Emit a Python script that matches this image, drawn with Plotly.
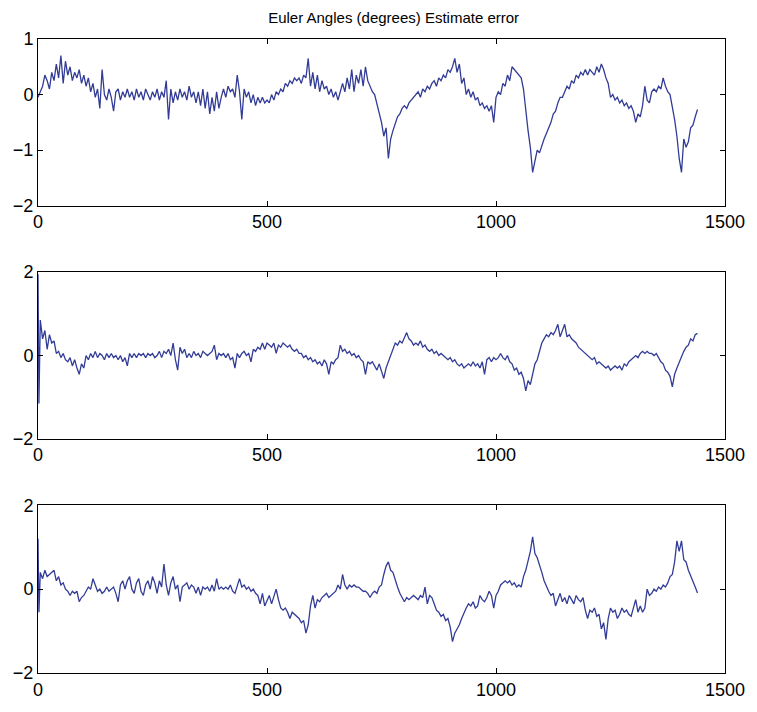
import plotly.graph_objects as go
from plotly.subplots import make_subplots

# sample index (every 5 samples)
x1 = list(range(0, 1441, 5))
roll = [
    -0.05, 0.05, 0.15, 0.35, 0.25, 0.10, 0.40, 0.25, 0.55, 0.30, 0.70, 0.20, 0.60, 0.35, 0.50, 0.25, 0.40, 0.30, 0.45, 0.20, 0.35,
    0.15, 0.30, 0.05, 0.20, -0.05, 0.10, -0.25, 0.45, 0.00, -0.10, 0.10, -0.05, -0.30, 0.05, 0.10, -0.10, 0.05, -0.05, 0.10, -0.05,
    0.05, -0.10, 0.10, -0.05, 0.05, -0.10, 0.10, 0.00, -0.10, 0.05, -0.05, 0.10, -0.10, 0.05, -0.05, 0.25, -0.45, 0.10, -0.15, 0.05,
    -0.10, 0.10, -0.05, 0.05, -0.10, 0.15, -0.05, 0.05, -0.15, 0.05, -0.20, 0.10, -0.25, 0.05, -0.35, -0.05, -0.30, 0.05, -0.25, -0.05,
    0.10, -0.05, 0.15, 0.05, 0.10, -0.05, 0.35, 0.05, -0.45, 0.10, -0.05, 0.05, -0.15, 0.00, -0.20, -0.05, -0.15, -0.05, -0.15, -0.10,
    -0.15, 0.00, -0.10, 0.05, 0.00, 0.10, 0.05, 0.20, 0.15, 0.25, 0.20, 0.30, 0.25, 0.30, 0.20, 0.35, 0.30, 0.65, 0.15, 0.40,
    0.10, 0.35, 0.05, 0.25, 0.10, 0.15, 0.00, 0.10, -0.05, 0.05, -0.10, 0.05, 0.20, 0.05, 0.30, 0.10, 0.45, 0.05, 0.35, 0.20,
    0.45, 0.15, 0.50, 0.25, 0.15, 0.05, 0.00, -0.15, -0.30, -0.50, -0.75, -0.60, -1.15, -0.80, -0.65, -0.50, -0.40, -0.35, -0.25, -0.20,
    -0.25, -0.15, -0.10, -0.05, 0.00, 0.05, -0.05, 0.10, 0.05, 0.15, 0.10, 0.20, 0.25, 0.15, 0.30, 0.25, 0.35, 0.30, 0.45, 0.40,
    0.50, 0.65, 0.40, 0.55, 0.20, 0.30, 0.00, 0.10, -0.05, 0.05, -0.10, -0.05, -0.20, -0.15, -0.25, -0.20, -0.30, -0.20, -0.50, -0.05,
    0.05, 0.00, 0.20, 0.15, 0.35, 0.25, 0.50, 0.45, 0.40, 0.35, 0.30, 0.10, -0.30, -0.65, -0.95, -1.40, -1.20, -1.00, -1.05, -0.90,
    -0.80, -0.70, -0.60, -0.50, -0.35, -0.30, -0.15, -0.05, -0.05, 0.05, 0.15, 0.10, 0.25, 0.20, 0.35, 0.30, 0.40, 0.35, 0.45, 0.35,
    0.45, 0.40, 0.35, 0.50, 0.40, 0.55, 0.45, 0.30, 0.20, -0.05, 0.00, -0.10, -0.05, -0.15, -0.10, -0.20, -0.15, -0.25, -0.20, -0.30,
    -0.50, -0.35, -0.40, -0.20, 0.15, -0.10, -0.15, 0.05, 0.10, 0.05, 0.15, 0.10, 0.30, 0.15, 0.05, 0.00, -0.20, -0.45, -0.75, -1.15,
    -1.40, -0.80, -0.95, -0.85, -0.60, -0.55, -0.40, -0.27,
]

x2 = [0, 2] + list(range(5, 1441, 5))
pitch = [
    1.95, -1.15,
    0.85, 0.40, 0.60, 0.15, 0.50, 0.30, 0.35, 0.05, 0.10, -0.05, 0.05, -0.10, -0.15, -0.05, -0.25, -0.10, -0.30, -0.45, -0.20, -0.30,
    0.00, -0.10, 0.05, -0.05, 0.10, -0.05, 0.05, 0.00, -0.10, 0.05, -0.05, 0.05, -0.05, 0.00, -0.10, 0.00, -0.15, -0.05, -0.25, 0.05,
    -0.05, 0.05, -0.05, 0.05, 0.00, 0.05, -0.05, 0.05, 0.00, 0.05, -0.05, 0.00, 0.10, -0.05, 0.10, 0.05, 0.15, 0.00, 0.30, -0.10,
    -0.35, 0.20, 0.05, 0.15, -0.05, 0.05, -0.05, 0.10, 0.00, 0.05, -0.05, 0.10, 0.05, 0.00, 0.05, 0.10, 0.25, -0.10, 0.05, 0.00,
    0.05, -0.05, 0.05, -0.10, -0.05, -0.30, 0.05, -0.05, 0.05, 0.10, 0.00, 0.05, -0.15, 0.15, 0.10, 0.20, 0.15, 0.30, 0.15, 0.30,
    0.25, 0.20, 0.30, 0.05, 0.25, 0.20, 0.30, 0.25, 0.20, 0.25, 0.15, 0.10, 0.15, 0.05, 0.05, -0.05, 0.00, -0.10, -0.05, -0.15,
    -0.10, -0.20, -0.15, -0.25, -0.10, -0.20, -0.45, -0.15, -0.20, -0.10, -0.05, 0.25, 0.10, 0.15, 0.05, 0.10, 0.00, 0.05, -0.05, 0.00,
    -0.10, -0.15, -0.45, -0.15, -0.20, -0.15, -0.25, -0.35, -0.20, -0.40, -0.55, -0.30, -0.15, 0.05, 0.15, 0.30, 0.25, 0.35, 0.30, 0.45,
    0.55, 0.40, 0.35, 0.25, 0.30, 0.25, 0.35, 0.20, 0.25, 0.15, 0.10, 0.15, 0.05, 0.10, 0.00, 0.05, 0.00, -0.05, -0.10, -0.05,
    -0.15, -0.10, -0.20, -0.25, -0.20, -0.30, -0.25, -0.20, -0.25, -0.15, -0.25, -0.20, -0.30, -0.15, -0.45, -0.10, -0.05, -0.15, -0.05, -0.10,
    -0.05, 0.05, -0.05, -0.10, 0.00, -0.15, -0.20, -0.35, -0.30, -0.45, -0.40, -0.55, -0.85, -0.60, -0.70, -0.45, -0.20, -0.10, 0.10, 0.30,
    0.40, 0.50, 0.45, 0.55, 0.50, 0.60, 0.75, 0.45, 0.60, 0.75, 0.45, 0.50, 0.40, 0.35, 0.30, 0.20, 0.15, 0.10, 0.05, 0.00,
    -0.05, -0.10, -0.05, -0.20, -0.15, -0.20, -0.25, -0.30, -0.25, -0.35, -0.30, -0.25, -0.30, -0.25, -0.35, -0.20, -0.25, -0.15, -0.10, -0.05,
    0.00, -0.05, 0.05, 0.10, 0.05, 0.10, 0.05, 0.05, 0.00, 0.05, -0.05, -0.15, -0.20, -0.35, -0.40, -0.50, -0.75, -0.45, -0.30, -0.15,
    -0.05, 0.10, 0.20, 0.25, 0.40, 0.35, 0.50, 0.53,
]

x3 = [0, 2] + list(range(5, 1441, 5))
yaw = [
    1.20, -0.55,
    0.40, 0.25, 0.45, 0.30, 0.35, 0.40, 0.45, 0.20, 0.30, 0.10, 0.15, 0.00, -0.05, -0.15, -0.05, -0.10, -0.05, -0.30, -0.20, -0.15,
    -0.05, 0.05, 0.00, 0.25, 0.10, -0.05, 0.00, -0.10, -0.05, 0.05, -0.05, 0.00, 0.05, -0.10, -0.30, 0.10, 0.20, 0.00, 0.20, 0.30,
    0.00, -0.10, 0.15, 0.25, -0.05, -0.15, 0.10, 0.20, 0.00, 0.30, 0.15, -0.10, 0.20, 0.05, 0.60, 0.10, -0.15, 0.15, 0.30, 0.00,
    0.10, -0.30, 0.05, 0.10, 0.15, 0.00, 0.10, 0.05, -0.10, 0.05, -0.15, 0.05, 0.00, 0.05, -0.05, 0.10, -0.05, 0.25, 0.00, 0.05,
    0.00, 0.05, 0.00, 0.10, -0.05, -0.10, 0.05, 0.25, 0.05, 0.10, 0.00, 0.05, -0.05, 0.00, -0.10, -0.15, -0.35, -0.10, -0.40, -0.25,
    -0.15, -0.35, -0.20, 0.00, -0.25, -0.45, -0.50, -0.45, -0.55, -0.70, -0.55, -0.60, -0.65, -0.70, -0.80, -0.75, -1.05, -0.85, -0.40, -0.15,
    -0.45, -0.25, -0.30, -0.20, -0.15, -0.10, -0.20, -0.15, -0.10, -0.05, 0.10, 0.00, 0.35, 0.10, 0.00, 0.10, 0.05, 0.10, 0.05, 0.05,
    0.00, -0.05, -0.05, -0.10, -0.20, -0.10, -0.05, -0.10, 0.05, 0.10, 0.35, 0.55, 0.65, 0.45, 0.40, 0.20, 0.05, -0.10, -0.20, -0.30,
    -0.20, -0.25, -0.20, -0.15, -0.20, -0.25, -0.15, -0.20, 0.05, -0.35, -0.15, -0.20, -0.35, -0.50, -0.55, -0.65, -0.60, -0.75, -0.70, -0.90,
    -1.25, -1.05, -0.95, -0.85, -0.70, -0.55, -0.45, -0.35, -0.40, -0.30, -0.45, -0.40, -0.15, -0.25, -0.30, -0.20, -0.05, -0.15, -0.45, -0.15,
    -0.05, 0.10, 0.15, 0.20, 0.15, 0.20, 0.10, 0.15, 0.05, 0.10, 0.05, 0.30, 0.45, 0.65, 0.90, 1.25, 0.85, 0.75, 0.60, 0.40,
    0.20, 0.05, -0.05, -0.15, -0.10, -0.40, -0.25, -0.10, -0.30, -0.20, -0.35, -0.15, -0.25, -0.35, -0.15, -0.25, -0.30, -0.20, -0.50, -0.70,
    -0.50, -0.55, -0.45, -0.65, -0.60, -0.95, -0.80, -1.20, -0.70, -0.45, -0.55, -0.50, -0.70, -0.60, -0.45, -0.55, -0.50, -0.60, -0.65, -0.45,
    -0.25, -0.55, -0.40, -0.55, -0.45, 0.00, -0.15, -0.10, 0.00, -0.05, 0.05, 0.00, 0.10, 0.05, 0.15, 0.30, 0.35, 0.65, 1.15, 0.90,
    1.15, 0.70, 0.65, 0.45, 0.30, 0.15, 0.05, -0.09,
]

x_ticks = [0, 500, 1000, 1500]
y1_ticks = [-2, -1, 0, 1]
y23_ticks = [-2, 0, 2]
title_text = "Euler Angles (degrees) Estimate error"

line_color = "#323C96"
font_family = "Liberation Sans, Arial, Helvetica, sans-serif"

fig = make_subplots(rows=3, cols=1)
for r, (xs, ys) in enumerate([(x1, roll), (x2, pitch), (x3, yaw)], start=1):
    fig.add_trace(go.Scatter(x=xs, y=ys, mode="lines",
                             line=dict(color=line_color, width=1.3),
                             showlegend=False), row=r, col=1)

domains = [[0.7371, 1.0], [0.3693, 0.6322], [0.0, 0.2645]]
axis_common = dict(showline=True, linecolor="black", linewidth=1, mirror="ticks",
                   ticks="inside", ticklen=5, tickcolor="black", showgrid=False,
                   zeroline=False, tickfont=dict(size=18, color="black", family=font_family))
for i in range(3):
    xa = "xaxis" if i == 0 else f"xaxis{i+1}"
    ya = "yaxis" if i == 0 else f"yaxis{i+1}"
    fig.layout[xa].update(range=[0, 1500], tickvals=x_ticks, domain=[0, 1], **axis_common)
    if i == 0:
        fig.layout[ya].update(range=[-2, 1], tickvals=y1_ticks, domain=domains[i], **axis_common)
    else:
        fig.layout[ya].update(range=[-2, 2], tickvals=y23_ticks, domain=domains[i], **axis_common)

fig.update_layout(
    width=757, height=712,
    margin=dict(l=38, r=26, t=39, b=34),
    paper_bgcolor="white", plot_bgcolor="white",
    font=dict(family=font_family, color="black"),
    title=dict(text=title_text, x=0.52, xanchor="center", y=0.975, yanchor="middle",
               font=dict(size=15, color="black", family=font_family)),
)

fig.write_html("out.html")
